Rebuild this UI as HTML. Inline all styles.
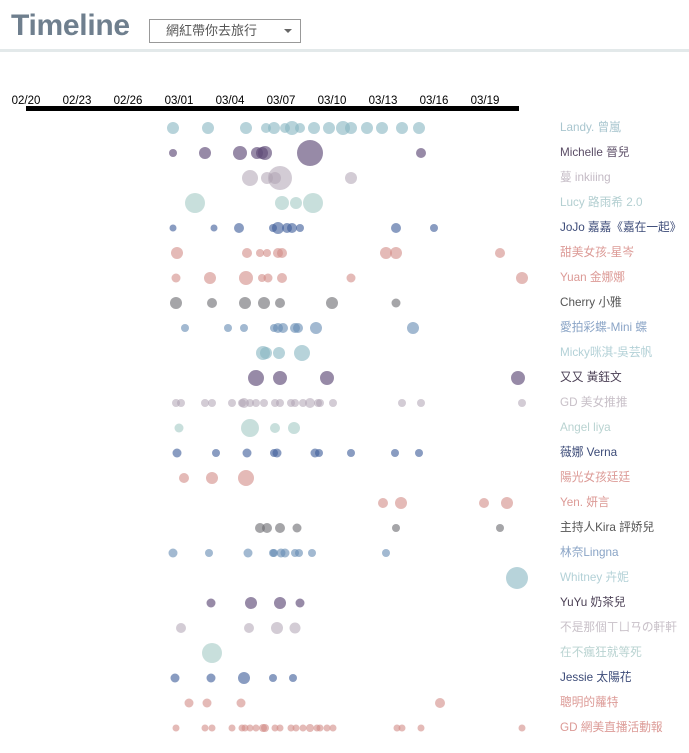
<!DOCTYPE html>
<html><head><meta charset="utf-8"><style>
body{margin:0;width:689px;height:753px;background:#fff;overflow:hidden;font-family:"Liberation Sans","Noto Sans CJK TC",sans-serif;position:relative}
#t{position:absolute;left:11px;top:9px;font-size:30px;font-weight:bold;color:#6f7f8e;letter-spacing:-0.3px}
#dd{position:absolute;left:149px;top:19px;width:150px;height:22px;border:1px solid #999;box-sizing:content-box;font-size:13px;color:#555;line-height:22px}
#dd span{position:absolute;left:16px}
#dd i{position:absolute;right:8px;top:9px;width:0;height:0;border-left:4px solid transparent;border-right:4px solid transparent;border-top:4px solid #666}
#band{position:absolute;left:0;top:49px;width:689px;height:3px;background:#e3e9ea}
svg{position:absolute;left:0;top:0}
.lb{position:absolute;left:560px;font-size:11.7px;white-space:nowrap;line-height:14px}
</style></head><body>
<div id="t">Timeline</div>
<div id="dd"><span>網紅帶你去旅行</span><i></i></div>
<div id="band"></div>
<svg id="s" width="689" height="753"></svg>
<div id="labels"></div>
<script>
var C={lb:"rgba(135,182,194,0.6)",pu:"rgba(95,75,120,0.65)",lg:"rgba(175,163,178,0.55)",lt:"rgba(155,196,192,0.55)",bl:"rgba(65,95,155,0.62)",pk:"rgba(210,140,135,0.6)",gr:"rgba(105,105,110,0.6)",mb:"rgba(100,138,178,0.6)"};
var rows=[
["Landy. 曾嵐","#a9c6cf","lb",[[173,6],[208,6],[246,6],[266,5],[274,6],[285,5],[292,7],[300,5],[314,6],[329,6],[343,7],[351,6],[367,6],[382,6],[402,6],[419,6]]],
["Michelle 晉兒","#5b4d66","pu",[[173,4],[205,6],[240,7],[257,6],[262,6],[265,7],[310,13],[421,5]]],
["蔓 inkiiing","#c4bbc5","lg",[[250,8],[267,6],[275,6],[280,12],[351,6]]],
["Lucy 路雨希 2.0","#b3cfd1","lt",[[195,10],[282,7],[296,6],[313,10]]],
["JoJo 嘉嘉《嘉在一起》","#3c4b78","bl",[[173,3.5],[214,3.5],[239,5],[273,4],[278,6],[287,5],[292,5],[300,4],[396,5],[434,4]]],
["甜美女孩-星岑","#dc9a96","pk",[[177,6],[247,5],[260,4],[267,4],[278,5],[282,5],[386,6],[396,6],[500,5]]],
["Yuan 金娜娜","#dc9a96","pk",[[176,4.5],[210,6],[246,7],[262,4],[268,4.5],[282,5],[351,4.5],[522,6]]],
["Cherry 小雅","#555","gr",[[176,6],[212,5],[245,6],[264,6],[280,5],[332,6],[396,4.5]]],
["愛拍彩蝶-Mini 蝶","#8aa4c6","mb",[[185,4],[228,4],[244,4],[274,4],[278,5],[283,5],[295,5],[298,5],[316,6],[413,6]]],
["Micky咪淇-吳芸帆","#b3d1d7","lb",[[263,7],[266,6],[279,6],[302,8]]],
["又又 黃鈺文","#4a3f54","pu",[[256,8],[280,7],[327,7],[518,7]]],
["GD 美女推推","#c8c0c8","lg",[[176,4],[181,4],[205,4],[212,4],[232,4],[242,4],[244,5],[250,4],[256,4],[264,4],[275,4],[280,4],[291,4],[295,4],[303,4],[310,5],[318,4],[320,4],[333,4],[402,4],[421,4],[522,4]]],
["Angel liya","#b9d3d1","lt",[[179,4.5],[250,9],[275,5],[294,6]]],
["薇娜 Verna","#3c4b78","bl",[[177,4.5],[216,4],[247,4.5],[274,4],[277,4.5],[315,4.5],[319,4],[351,4],[395,4],[419,4]]],
["陽光女孩廷廷","#dc9a96","pk",[[184,5],[212,6],[246,8]]],
["Yen. 妍言","#dc9a96","pk",[[383,5],[401,6],[484,5],[507,6]]],
["主持人Kira 評娇兒","#555","gr",[[260,5],[267,5],[280,5],[297,4.5],[396,4],[500,4]]],
["林奈Lingna","#8aa4c6","mb",[[173,4.5],[209,4],[248,4.5],[273,4],[274,4],[281,4.5],[285,4.5],[295,4],[299,4],[312,4],[386,4]]],
["Whitney 卉妮","#b3d1d7","lb",[[517,11]]],
["YuYu 奶茶兒","#4a3f54","pu",[[211,4.5],[251,6],[280,6],[300,4.5]]],
["不是那個ㄒㄩㄢの軒軒","#c8c0c8","lg",[[181,5],[249,5],[277,6],[295,5.5]]],
["在不瘋狂就等死","#b9d3d1","lt",[[212,10]]],
["Jessie 太陽花","#3c4b78","bl",[[175,4.5],[211,4.5],[244,6],[273,4],[293,4]]],
["聰明的蘿特","#dc9a96","pk",[[189,4.5],[207,4.5],[241,4.5],[440,5]]],
["GD 網美直播活動報","#dc9a96","pk",[[176,3.5],[205,3.5],[212,3.5],[232,3.5],[242,3.5],[245,3.5],[250,3.5],[256,3.5],[263,4],[265,4],[275,3.5],[280,3.5],[291,3.5],[296,3.5],[303,3.5],[310,4],[317,3.5],[320,3.5],[327,3.5],[333,3.5],[397,3.5],[402,3.5],[421,3.5],[522,3.5]]]
];
var s='';
var ticks=["02/20","02/23","02/26","03/01","03/04","03/07","03/10","03/13","03/16","03/19"];
ticks.forEach(function(t,i){s+='<text x="'+(26+51*i)+'" y="104" font-size="11.5" text-anchor="middle" font-family="Liberation Sans" fill="#000">'+t+'</text>';});
s+='<rect x="26" y="106" width="493" height="5" fill="#000"/>';
var L='';
rows.forEach(function(r,i){var y=128+25*i;
r[3].forEach(function(d){s+='<circle cx="'+d[0]+'" cy="'+y+'" r="'+d[1]+'" fill="'+C[r[2]]+'"/>';});
L+='<div class="lb" style="top:'+(y-7)+'px;color:'+r[1]+'">'+r[0]+'</div>';});
document.getElementById('s').innerHTML=s;
document.getElementById('labels').innerHTML=L;
</script>
</body></html>
